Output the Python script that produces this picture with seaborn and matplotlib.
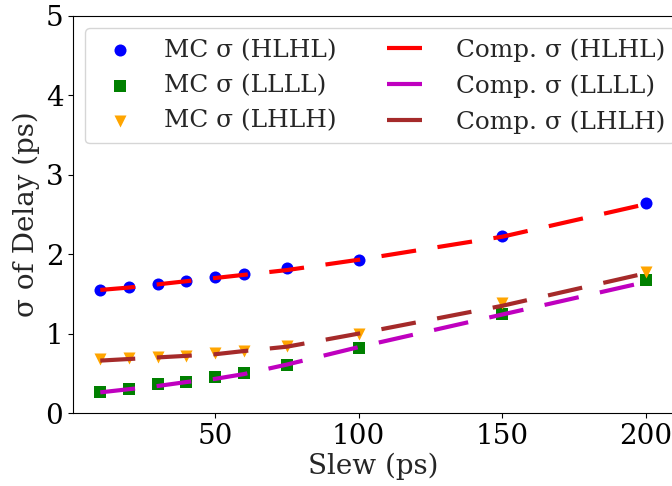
import matplotlib
matplotlib.use("Agg")
import matplotlib.pyplot as plt
import seaborn as sns
import pandas as pd

# ---- data ----
slew = [10, 20, 30, 40, 50, 60, 75, 100, 150, 200]
mc_hlhl = [1.55, 1.59, 1.63, 1.66, 1.71, 1.75, 1.82, 1.93, 2.23, 2.64]
mc_llll = [0.27, 0.30, 0.36, 0.39, 0.45, 0.50, 0.61, 0.82, 1.25, 1.68]
mc_lhlh = [0.68, 0.69, 0.71, 0.72, 0.75, 0.78, 0.85, 1.00, 1.38, 1.78]
comp_hlhl = [1.55, 1.58, 1.62, 1.66, 1.70, 1.74, 1.80, 1.93, 2.22, 2.63]
comp_llll = [0.26, 0.30, 0.34, 0.39, 0.43, 0.49, 0.61, 0.83, 1.24, 1.65]
comp_lhlh = [0.66, 0.68, 0.70, 0.72, 0.74, 0.78, 0.835, 1.00, 1.35, 1.76]

mc_labels = ["MC σ (HLHL)", "MC σ (LLLL)", "MC σ (LHLH)"]
comp_labels = ["Comp. σ (HLHL)", "Comp. σ (LLLL)", "Comp. σ (LHLH)"]
yticks = [0, 1, 2, 3, 4, 5]
xticks = [50, 100, 150, 200]

sns.set_style("ticks")
plt.rcParams["font.family"] = ["DejaVu Serif"]
plt.rcParams["axes.edgecolor"] = "black"
plt.rcParams["xtick.color"] = "black"
plt.rcParams["ytick.color"] = "black"

fig = plt.figure(figsize=(6.72, 4.86), dpi=100)
ax = fig.add_axes([73 / 672, 73 / 486, 600 / 672, 397 / 486])

mc_series = [mc_hlhl, mc_llll, mc_lhlh]
mc_colors = ["blue", "green", "orange"]
mc_markers = ["o", "s", "v"]
for ys, c, m, lab in zip(mc_series, mc_colors, mc_markers, mc_labels):
    df = pd.DataFrame({"slew": slew, "sigma": ys})
    sns.scatterplot(data=df, x="slew", y="sigma", color=c, marker=m,
                    s=75, linewidth=0, label=lab, ax=ax, zorder=2)

comp_series = [comp_hlhl, comp_llll, comp_lhlh]
comp_colors = ["red", "m", "brown"]
for ys, c, lab in zip(comp_series, comp_colors, comp_labels):
    df = pd.DataFrame({"slew": slew, "sigma": ys})
    sns.lineplot(data=df, x="slew", y="sigma", color=c, linewidth=3,
                 linestyle=(0, (8.4, 5.2)), label=lab, ax=ax, zorder=3)

ax.set_xlim(0.5, 209.5)
ax.set_ylim(0, 5)
ax.set_yticks(yticks)
ax.set_xticks(xticks)
ax.tick_params(labelsize=20)
ax.set_xlabel("Slew (ps)", fontsize=20, labelpad=2)
ax.set_ylabel("σ of Delay (ps)", fontsize=20)

ax.legend(loc="upper left", ncol=2, fontsize=17.8)

fig.savefig("out.png", dpi=100)
